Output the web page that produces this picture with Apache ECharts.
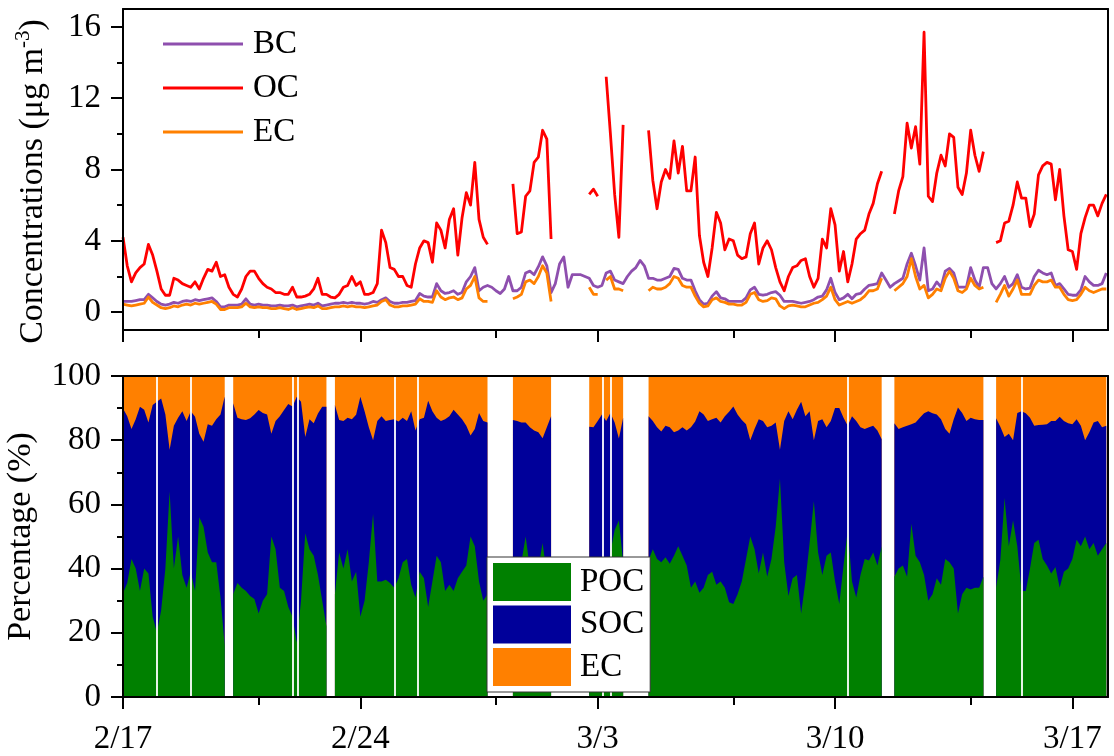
<!DOCTYPE html>
<html><head><meta charset="utf-8">
<script src="https://cdn.jsdelivr.net/npm/echarts@6/dist/echarts.min.js"></script>
<style>html,body{margin:0;padding:0;background:#fff}#c{width:1114px;height:756px}</style>
</head><body><div id="c"></div>
<script>
// ---- axis / tick data ----
const stepHours = 3;                       // sampling step of the series (hours from 2/17 00:00)
const tickDays = [0, 7, 14, 21, 28];
const tickLabels = ['2/17', '2/24', '3/3', '3/10', '3/17'];
const minorTickDays = [4, 11, 18, 25];
const concTicks = [0, 4, 8, 12, 16];
const concMinorTicks = [2, 6, 10, 14];
const pctTicks = [0, 20, 40, 60, 80, 100];
const pctMinorTicks = [10, 30, 50, 70, 90];
const n = null;

// single missing hours in the percentage record (days after 2/17 00:00)
const pctMissing = [0.99, 2.0, 5.0, 5.15, 8.02, 8.68, 14.15, 14.39, 21.37, 26.51];

// ---- concentrations (ug m-3), one row per day, 3-hourly ----
const BC = [
0.6,0.6,0.6,0.65,0.7,0.7,1.0,0.8,
0.6,0.45,0.4,0.45,0.55,0.5,0.6,0.65,
0.6,0.7,0.65,0.7,0.75,0.8,0.6,0.3,
0.3,0.4,0.4,0.4,0.45,0.75,0.45,0.4,
0.45,0.4,0.4,0.35,0.35,0.4,0.35,0.35,
0.4,0.3,0.35,0.4,0.45,0.4,0.5,0.35,
0.4,0.45,0.5,0.5,0.55,0.5,0.55,0.5,
0.5,0.45,0.5,0.6,0.55,0.7,0.8,0.6,
0.5,0.5,0.55,0.55,0.6,0.65,1.05,0.9,
0.85,0.85,1.6,1.2,1.05,1.1,1.2,1.0,
1.1,1.7,2.0,2.5,1.2,1.4,1.5,1.4,
1.2,1.05,1.3,2.0,1.2,1.2,1.4,2.2,
2.3,2.1,2.55,3.1,2.6,1.1,1.6,2.7,
3.1,1.4,2.1,2.1,2.1,2.0,1.9,1.5,
1.4,1.5,2.2,2.3,1.8,1.7,1.6,2.0,
2.3,2.5,2.9,2.6,1.9,1.9,1.8,1.8,
1.9,2.0,2.45,2.4,1.9,1.8,1.8,1.2,
0.7,0.45,0.5,0.9,1.15,0.8,0.75,0.6,
0.6,0.6,0.6,0.8,1.25,1.4,1.0,0.95,
1.0,1.1,1.15,0.95,0.6,0.6,0.6,0.55,
0.5,0.55,0.6,0.7,0.85,0.9,1.25,1.9,
1.1,0.7,0.8,1.0,0.75,1.0,1.05,1.3,
1.5,1.55,1.6,2.2,1.8,1.4,1.6,1.75,
1.9,2.7,3.3,2.6,1.8,3.6,1.2,1.3,
1.7,1.4,2.3,2.45,2.2,1.4,1.4,1.4,
2.5,1.8,1.4,2.5,2.5,1.6,1.3,1.6,
2.0,1.4,1.6,2.1,1.4,1.3,1.35,2.0,
2.35,2.2,2.1,2.2,1.5,1.6,1.3,1.0,
0.95,0.95,1.25,2.0,1.7,1.5,1.5,1.6,
2.2];
const OC = [
4.2,2.6,1.7,2.2,2.5,2.7,3.8,3.2,
2.3,1.3,0.95,0.95,1.9,1.8,1.6,1.5,
1.4,1.7,1.3,1.9,2.4,2.3,2.8,2.0,
2.1,1.4,1.0,0.85,1.3,2.0,2.3,2.3,
1.9,1.6,1.4,1.3,1.1,1.1,1.0,1.0,
1.4,0.85,0.85,0.9,1.0,1.3,1.9,1.0,
1.0,0.85,0.8,1.0,1.4,1.5,2.0,1.5,
1.7,1.0,1.0,1.1,1.6,4.6,3.9,2.5,
2.4,2.0,2.0,1.5,1.4,2.7,3.6,4.0,
3.9,2.8,5.0,4.6,3.6,5.2,5.8,3.2,
5.3,6.7,6.0,8.4,5.2,4.2,3.8,n,
n,n,n,n,7.2,4.4,4.5,6.5,
6.8,8.4,8.7,10.2,9.7,4.1,n,n,
n,n,n,n,n,n,6.6,6.9,
6.5,n,13.2,10.0,6.6,4.2,10.5,n,
n,n,n,n,10.2,7.4,5.8,7.3,
8.0,7.5,9.6,7.8,9.3,6.8,6.8,8.7,
4.3,2.8,2.0,3.6,5.6,5.0,3.5,4.1,
4.0,3.2,3.0,3.1,4.4,5.0,2.7,3.6,
4.0,3.5,2.5,1.7,1.2,2.0,2.5,2.6,
2.9,3.0,2.0,1.4,1.9,4.1,3.6,5.8,
4.9,2.3,3.4,1.7,2.7,4.1,4.4,4.6,
5.5,6.1,7.2,7.9,n,n,5.5,6.8,
7.6,10.6,9.2,10.4,8.3,15.7,6.5,6.2,
7.8,8.8,8.2,10.0,9.8,7.0,6.6,7.8,
10.2,8.8,7.9,9.0,n,n,3.9,4.0,
5.0,5.1,6.0,7.3,6.4,6.4,4.8,5.5,
7.7,8.2,8.4,8.3,6.3,8.0,5.4,3.5,
3.4,2.4,4.4,5.3,6.0,6.0,5.4,6.1,
6.6];
const EC = [
0.45,0.4,0.35,0.4,0.45,0.5,0.85,0.55,
0.4,0.25,0.2,0.25,0.35,0.3,0.4,0.45,
0.4,0.5,0.45,0.5,0.55,0.6,0.45,0.15,
0.15,0.25,0.25,0.25,0.3,0.5,0.3,0.25,
0.3,0.25,0.25,0.2,0.2,0.25,0.2,0.15,
0.25,0.15,0.2,0.25,0.3,0.25,0.35,0.2,
0.2,0.25,0.3,0.3,0.35,0.3,0.35,0.3,
0.3,0.25,0.3,0.35,0.4,0.6,0.7,0.4,
0.3,0.3,0.35,0.35,0.4,0.45,0.75,0.6,
0.6,0.55,1.2,0.85,0.7,0.8,0.85,0.7,
0.8,1.3,1.5,2.0,0.8,0.6,0.6,n,
n,n,n,n,0.75,0.85,1.0,1.7,
1.8,1.6,2.0,2.6,2.2,0.6,n,n,
n,n,n,n,n,n,1.4,1.0,
1.0,n,1.8,2.0,1.3,1.3,1.2,n,
n,n,n,n,1.2,1.4,1.3,1.3,
1.4,1.6,2.0,1.9,1.5,1.4,1.4,0.9,
0.5,0.3,0.35,0.7,0.8,0.6,0.55,0.45,
0.45,0.4,0.4,0.55,1.0,1.1,0.7,0.6,
0.65,0.8,0.75,0.35,0.2,0.35,0.4,0.35,
0.3,0.3,0.4,0.5,0.55,0.7,0.9,1.4,
0.7,0.4,0.5,0.6,0.5,0.6,0.7,0.9,
1.2,1.2,1.3,1.9,n,n,1.2,1.4,
1.6,2.0,3.0,2.0,1.3,1.5,0.8,1.0,
1.3,1.2,1.9,2.3,1.9,1.2,1.1,1.3,
1.9,1.5,1.3,1.4,n,n,0.55,1.0,
1.5,0.9,1.3,1.8,1.0,1.0,1.0,1.5,
1.8,1.7,1.7,1.8,1.4,1.4,1.0,0.7,
0.65,0.7,1.0,1.4,1.2,1.1,1.2,1.3,
1.3];

// ---- percentages (%), one row per day, 3-hourly ----
const POC = [
32.3,35.5,43,40,33,40,38.5,25,
20,27,40,64,40,50,38,34,
39,33,56,53,45,42,42,31,
16,n,32,35.5,34,33,31.5,30.5,
26,30,32,50,46,34,33,28,
25,17,30,51,46,44,38,30,
22,n,32,45,40,46,36,39,
25,30,42,57,36,36,36.5,35.5,
34,37,42,43,35,31,39,37,
28,36,44,42,33,35,33,37,
39,41,50,47,36,30,32,n,
n,n,n,n,36,38,42,50,
40,36,40,48,38,36,n,n,
n,n,n,n,n,n,36,38,
35,40,37,45,52,55,42,n,
n,n,n,n,42.5,46,43,42,
43.5,41.5,44,47,44,41,34,36,
32.5,34,38,39,35,36,34,29.5,
29,32,36,43,50,46,38.5,45,
37.5,43,53,68,42,31.5,37,38,
26,36,48,61,45,38,44,45,
36,29,41,52,36,31,38,43,
42.5,45,41,47,n,n,37.5,40,
41,37.5,54,44,42,38,30,32,
37,35,43,42,40,26,32,34,
33.5,34,34,37.5,n,n,34,42.7,
62,47,55,47,33,33,40,48,
49,43,41,38.5,40.5,34,39,40,
43,49,47,50,46,48,44,46,
48];
const SOC = [
57.6,52,40.5,46.5,57.4,49.5,47,66,
72,66,48,13,44.5,37,51,52,
50,54.3,26,26.5,40,42.5,44.5,57,
77.6,n,59.5,51.5,52.5,53.3,55.3,57.5,
63.4,58.5,56,32,40,53.5,56.4,63.3,
65.5,76.5,62,30,40.5,41.3,50.3,60.4,
68.4,n,59,41.3,46,41,50.5,48.9,
68.5,59,42,23,50,51.5,49.5,50.8,
52.5,48.8,45,43,54,52,47.5,50,
64.3,53,43,44,53.5,52.5,56.5,51,
47.5,43.5,31.5,36.5,52.5,56,53.5,n,
n,n,n,n,50.3,48,43.5,35.5,
44,47,42.5,32.6,46,51.5,n,n,
n,n,n,n,n,n,48.2,46,
51,48,49,43.5,33.5,25.5,45,n,
n,n,n,n,45,40,41,40.7,
41,42.5,38.5,36,40,42,50,49.8,
56.5,54,48,47.5,52,49.5,53.5,59.4,
61.5,56,50.3,42,30,37.5,48,41,
46.5,41.5,32.5,9,44,57.5,49.5,51.5,
66,51.5,41,19,41,48.5,40,41,
54,61,46,32.5,51.5,55,46,40.5,
41.5,39.5,42,33.3,n,n,47.8,43.5,
43,47,31,41.5,45,50.4,59,56.4,
51,51.5,40.5,40,46.5,64.2,56.5,52,
53.5,52.5,52.3,48.8,n,n,52.8,41.5,
19,35,25,41.5,56,55.4,47,36.5,
35.7,41.8,44,47.5,45.5,53.3,47,45.3,
42,37.5,37.5,30,36.5,37.5,42,38,
36.5];
const ECpct = [
10.1,12.5,16.5,13.5,9.6,10.5,14.5,9,
8,7,12,23,15.5,13,11,14,
11,12.7,18,20.5,15,15.5,13.5,12,
6.4,n,8.5,13,13.5,13.7,13.2,12,
10.6,11.5,12,18,14,12.5,10.6,8.7,
9.5,6.5,8,19,13.5,14.7,11.7,9.6,
9.6,n,9,13.7,14,13,13.5,12.1,
6.5,11,16,20,14,12.5,14,13.7,
13.5,14.2,13,14,11,17,13.5,13,
7.7,11,13,14,13.5,12.5,10.5,12,
13.5,15.5,18.5,16.5,11.5,14,14.5,n,
n,n,n,n,13.7,14,14.5,14.5,
16,17,17.5,19.4,16,12.5,n,n,
n,n,n,n,n,n,15.8,16,
14,12,14,11.5,14.5,19.5,13,n,
n,n,n,n,12.5,14,16,17.3,
15.5,16,17.5,17,16,17,16,14.2,
11,12,14,13.5,13,14.5,12.5,11.1,
9.5,12,13.7,15,20,16.5,13.5,14,
16,15.5,14.5,23,14,11,13.5,10.5,
8,12.5,11,20,14,13.5,16,14,
10,10,13,15.5,12.5,14,16,16.5,
16,15.5,17,19.7,n,n,14.7,16.5,
16,15.5,15,14.5,13,11.6,11,11.6,
12,13.5,16.5,18,13.5,9.8,11.5,14,
13,13.5,13.7,13.7,n,n,13.2,15.8,
19,18,20,11.5,11,11.6,13,15.5,
15.3,15.2,15,14,14,12.7,14,14.7,
15,13.5,15.5,20,17.5,14.5,14,16,
15.5];

// ---- helpers ----
const toXY = arr => arr.map((v, i) => [i * stepHours / 24, v]);
const cumulative = (...arrs) => arrs[0].map((_, i) =>
  arrs.some(a => a[i] == null) ? null : +arrs.reduce((s, a) => s + a[i], 0).toFixed(2));

const FONT = 'Liberation Serif';
const BLACK = '#000';
const XMAX = 29.05;
const colors = {BC: '#8E4FAE', OC: '#FF0000', EC: '#FF8000', POC: '#008000', SOC: '#00009A'};

const line = {color: BLACK, width: 2};
function xAxes(grid, withLabels) {
  return [
    {gridIndex: grid, type: 'value', min: 0, max: XMAX, position: 'bottom', z: 10,
     axisLine: {onZero: false, lineStyle: line},
     axisTick: {customValues: tickDays, length: 12, lineStyle: line},
     axisLabel: withLabels ? {customValues: tickDays, margin: 26, fontFamily: FONT, fontSize: 33, color: BLACK,
       formatter: v => tickLabels[tickDays.indexOf(Math.round(v))] || ''} : {show: false},
     splitLine: {show: false}},
    {gridIndex: grid, type: 'value', min: 0, max: XMAX, position: 'bottom', z: 10,
     axisLine: {show: false, onZero: false},
     axisTick: {customValues: minorTickDays, length: 8, lineStyle: line},
     axisLabel: {show: false}, splitLine: {show: false}},
    {gridIndex: grid, type: 'value', min: 0, max: XMAX, position: 'top', z: 10,
     axisLine: {onZero: false, lineStyle: line}, axisTick: {show: false},
     axisLabel: {show: false}, splitLine: {show: false}}
  ];
}
function yAxes(grid, min, max, ticks, minor, name, gap) {
  return [
    {gridIndex: grid, type: 'value', min, max, position: 'left', z: 10,
     name, nameLocation: 'middle', nameGap: gap,
     nameTextStyle: {fontFamily: FONT, fontSize: 34, color: BLACK, lineHeight: 40, padding: grid === 0 ? [0, 24, 0, 0] : 0,
       rich: {a: {fontFamily: FONT, fontSize: 34, color: BLACK, lineHeight: 40},
              b: {fontFamily: FONT, fontSize: 21, color: BLACK, lineHeight: 22, verticalAlign: 'top'}}},
     axisLine: {onZero: false, lineStyle: line},
     axisTick: {customValues: ticks, length: 12, lineStyle: line},
     axisLabel: {customValues: ticks, margin: 22, fontFamily: FONT, fontSize: 33, color: BLACK},
     splitLine: {show: false}},
    {gridIndex: grid, type: 'value', min, max, position: 'left', z: 10,
     axisLine: {show: false, onZero: false},
     axisTick: {customValues: minor, length: 6, lineStyle: line},
     axisLabel: {show: false}, splitLine: {show: false}},
    {gridIndex: grid, type: 'value', min, max, position: 'right', z: 10,
     axisLine: {onZero: false, lineStyle: line}, axisTick: {show: false},
     axisLabel: {show: false}, splitLine: {show: false}}
  ];
}

const lineSeries = (name, data) => ({
  name, type: 'line', xAxisIndex: 0, yAxisIndex: 0, data: toXY(data),
  showSymbol: false, connectNulls: false, color: colors[name], z: 3,
  lineStyle: {width: 2.8, color: colors[name], join: 'round'}
});
const areaSeries = (name, data, z) => ({
  name, type: 'line', xAxisIndex: 3, yAxisIndex: 3, data: toXY(data),
  showSymbol: false, connectNulls: false, color: colors[name], z,
  lineStyle: {width: 0}, areaStyle: {color: colors[name], opacity: 1}
});

const chart = echarts.init(document.getElementById('c'), null, {renderer: 'canvas'});
chart.setOption({
  animation: false,
  backgroundColor: '#fff',
  grid: [
    {left: 123, right: 6, top: 9, height: 321, containLabel: false, outerBoundsMode: 'none'},
    {left: 123, right: 6, top: 376, height: 321, containLabel: false, outerBoundsMode: 'none'}
  ],
  xAxis: [...xAxes(0, false), ...xAxes(1, true)],
  yAxis: [
    ...yAxes(0, -1, 17, concTicks, concMinorTicks, '{a|Concentrations (μg m}{b|-3}{a|)}', 70),
    ...yAxes(1, 0, 100, pctTicks, pctMinorTicks, 'Percentage (%)', 68)
  ],
  legend: [
    {data: ['BC', 'OC', 'EC'], orient: 'vertical', left: 163, top: 26, padding: 0,
     itemWidth: 80, itemHeight: 3, itemGap: 8, icon: 'rect', selectedMode: false,
     textStyle: {fontFamily: FONT, fontSize: 33, color: BLACK, lineHeight: 36, padding: [0, 0, 0, 5]}},
    {data: ['POC', 'SOC', 'EC'], orient: 'vertical', left: 487, top: 557, padding: 6,
     itemWidth: 78, itemHeight: 38, itemGap: 4.5, icon: 'rect', selectedMode: false,
     borderColor: '#333', borderWidth: 1, backgroundColor: '#fff', z: 20,
     textStyle: {fontFamily: FONT, fontSize: 33, color: BLACK, lineHeight: 38, padding: [0, 0, 0, 4]}}
  ],
  series: [
    lineSeries('BC', BC),
    lineSeries('OC', OC),
    lineSeries('EC', EC),
    areaSeries('EC', cumulative(POC, SOC, ECpct), 2),
    areaSeries('SOC', cumulative(POC, SOC), 3),
    areaSeries('POC', POC, 4),
    {name: 'missing', type: 'line', xAxisIndex: 3, yAxisIndex: 3, data: [], z: 5, silent: true,
     markLine: {silent: true, symbol: ['none', 'none'], label: {show: false}, animation: false,
       lineStyle: {color: '#fff', width: 1.8, type: 'solid', opacity: 1},
       emphasis: {disabled: true},
       data: pctMissing.map(t => ({xAxis: t}))}}
  ]
});
</script>
</body></html>
